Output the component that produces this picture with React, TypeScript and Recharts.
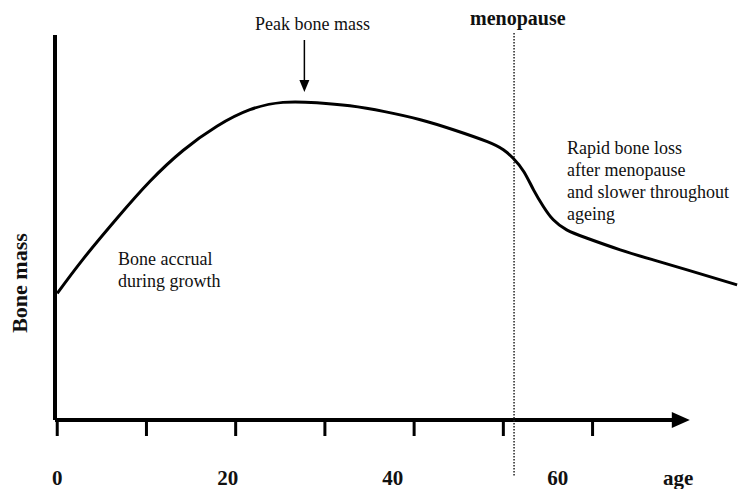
import { LineChart, Line, XAxis, YAxis, ReferenceLine } from "recharts";

// bone mass curve (age in years, bone mass in arbitrary units 0-100)
const ages = [0, 2.9, 6.7, 10.4, 14.1, 17.9, 21.6, 25.3, 29.1, 32.8, 36.7, 40.7, 44.4, 48.2, 50.0, 51.1, 52.3, 53.4, 54.5, 55.6, 57.1, 59.4, 63.1, 66.8, 70.6, 76.2];
const boneMass = [32.9, 41.8, 52.4, 62.0, 70.0, 76.3, 80.6, 82.5, 82.4, 81.6, 80.1, 78.0, 75.4, 72.3, 70.2, 68.0, 64.5, 59.7, 55.4, 52.0, 49.4, 47.2, 44.2, 41.6, 39.0, 35.1];

const tickAges = [0, 10, 20, 30, 40, 50, 60];
// where the printed labels actually sit (they drift off their ticks in the original)
const labelPositions = [0, 19.1, 37.6, 56.1, 69.6];
const labelTexts = ["0", "20", "40", "60", "age"];

const menopauseAge = 51.2;
const peakAge = 27.7;

const data = ages.map((a, i) => ({ age: a, mass: boneMass[i] }));

const SERIF = '"Liberation Serif", "Times New Roman", serif';

const AxisArrow = (props: any) => {
  const { x1, y1, x2, y2 } = props;
  const head = 18;
  return (
    <g>
      <line x1={x1} y1={y1} x2={x2 - head + 2} y2={y2} stroke="#000" strokeWidth={4} />
      <polygon points={`${x2},${y2} ${x2 - head},${y2 - 8} ${x2 - head},${y2 + 8}`} fill="#000" />
    </g>
  );
};

const DownArrow = (props: any) => {
  const { x1, y1, x2, y2 } = props;
  const top = Math.min(y1, y2);
  const tip = Math.max(y1, y2);
  const head = 12;
  return (
    <g>
      <line x1={x1} y1={top} x2={x2} y2={tip - head + 1} stroke="#000" strokeWidth={1.5} />
      <polygon points={`${x2},${tip} ${x2 - 5},${tip - head} ${x2 + 5},${tip - head}`} fill="#000" />
    </g>
  );
};

const DottedLine = (props: any) => {
  const { x1, y1, x2, y2 } = props;
  return <line x1={x1} y1={y1} x2={x2} y2={y2} stroke="#222" strokeWidth={1.5} strokeDasharray="1.5 1.5" />;
};

const NoTick = () => <g />;

const LabelTick = (props: any) => {
  const { x, y, payload } = props;
  const i = labelPositions.indexOf(payload.value);
  return (
    <text x={x} y={y + 47} textAnchor="middle" fontFamily={SERIF} fontWeight="bold" fontSize={21} fill="#111">
      {labelTexts[i]}
    </text>
  );
};

export default function App() {
  return (
    <div style={{ position: "absolute", left: 0, top: 0, width: 738, height: 489, background: "#fff" }}>
      <LineChart width={738} height={489} data={data} margin={{ top: 35, right: 0, left: 0, bottom: 0 }}>
        <XAxis
          dataKey="age"
          type="number"
          domain={[-0.25, 76.3]}
          allowDataOverflow
          ticks={tickAges}
          axisLine={false}
          tickSize={16}
          tickLine={{ stroke: "#000", strokeWidth: 3 }}
          tick={NoTick}
          height={16}
        />
        <XAxis
          xAxisId="lbl"
          dataKey="age"
          type="number"
          domain={[-0.25, 76.3]}
          allowDataOverflow
          ticks={labelPositions}
          axisLine={false}
          tickLine={false}
          tickSize={0}
          tick={LabelTick}
          height={53}
        />
        <YAxis
          type="number"
          domain={[0, 100]}
          width={55}
          tick={false}
          tickLine={false}
          axisLine={{ stroke: "#000", strokeWidth: 4 }}
        />
        <ReferenceLine
          segment={[{ x: -0.25, y: 0 }, { x: 70.9, y: 0 }]}
          ifOverflow="visible"
          shape={AxisArrow}
        />
        <ReferenceLine
          segment={[{ x: menopauseAge, y: 100.5 }, { x: menopauseAge, y: -14.8 }]}
          ifOverflow="visible"
          shape={DottedLine}
        />
        <ReferenceLine
          segment={[{ x: peakAge, y: 98.7 }, { x: peakAge, y: 85.2 }]}
          ifOverflow="visible"
          shape={DownArrow}
        />
        <Line
          dataKey="mass"
          type="natural"
          stroke="#000"
          strokeWidth={3}
          dot={false}
          activeDot={false}
          isAnimationActive={false}
        />
      </LineChart>
      <svg
        width={738}
        height={489}
        style={{ position: "absolute", left: 0, top: 0, pointerEvents: "none" }}
        fontFamily={SERIF}
        fill="#111"
      >
        <text x={255} y={30} fontSize={18}>Peak bone mass</text>
        <text x={470} y={25} fontSize={20} fontWeight="bold">menopause</text>
        <text x={118} y={265} fontSize={18}>Bone accrual</text>
        <text x={118} y={287} fontSize={18}>during growth</text>
        <text x={567} y={154} fontSize={18}>Rapid bone loss</text>
        <text x={567} y={176} fontSize={18}>after menopause</text>
        <text x={567} y={198} fontSize={18}>and slower throughout</text>
        <text x={567} y={220} fontSize={18}>ageing</text>
        <text
          x={27}
          y={283}
          fontSize={22}
          fontWeight="bold"
          textAnchor="middle"
          transform="rotate(-90 27 283)"
        >
          Bone mass
        </text>
      </svg>
    </div>
  );
}
